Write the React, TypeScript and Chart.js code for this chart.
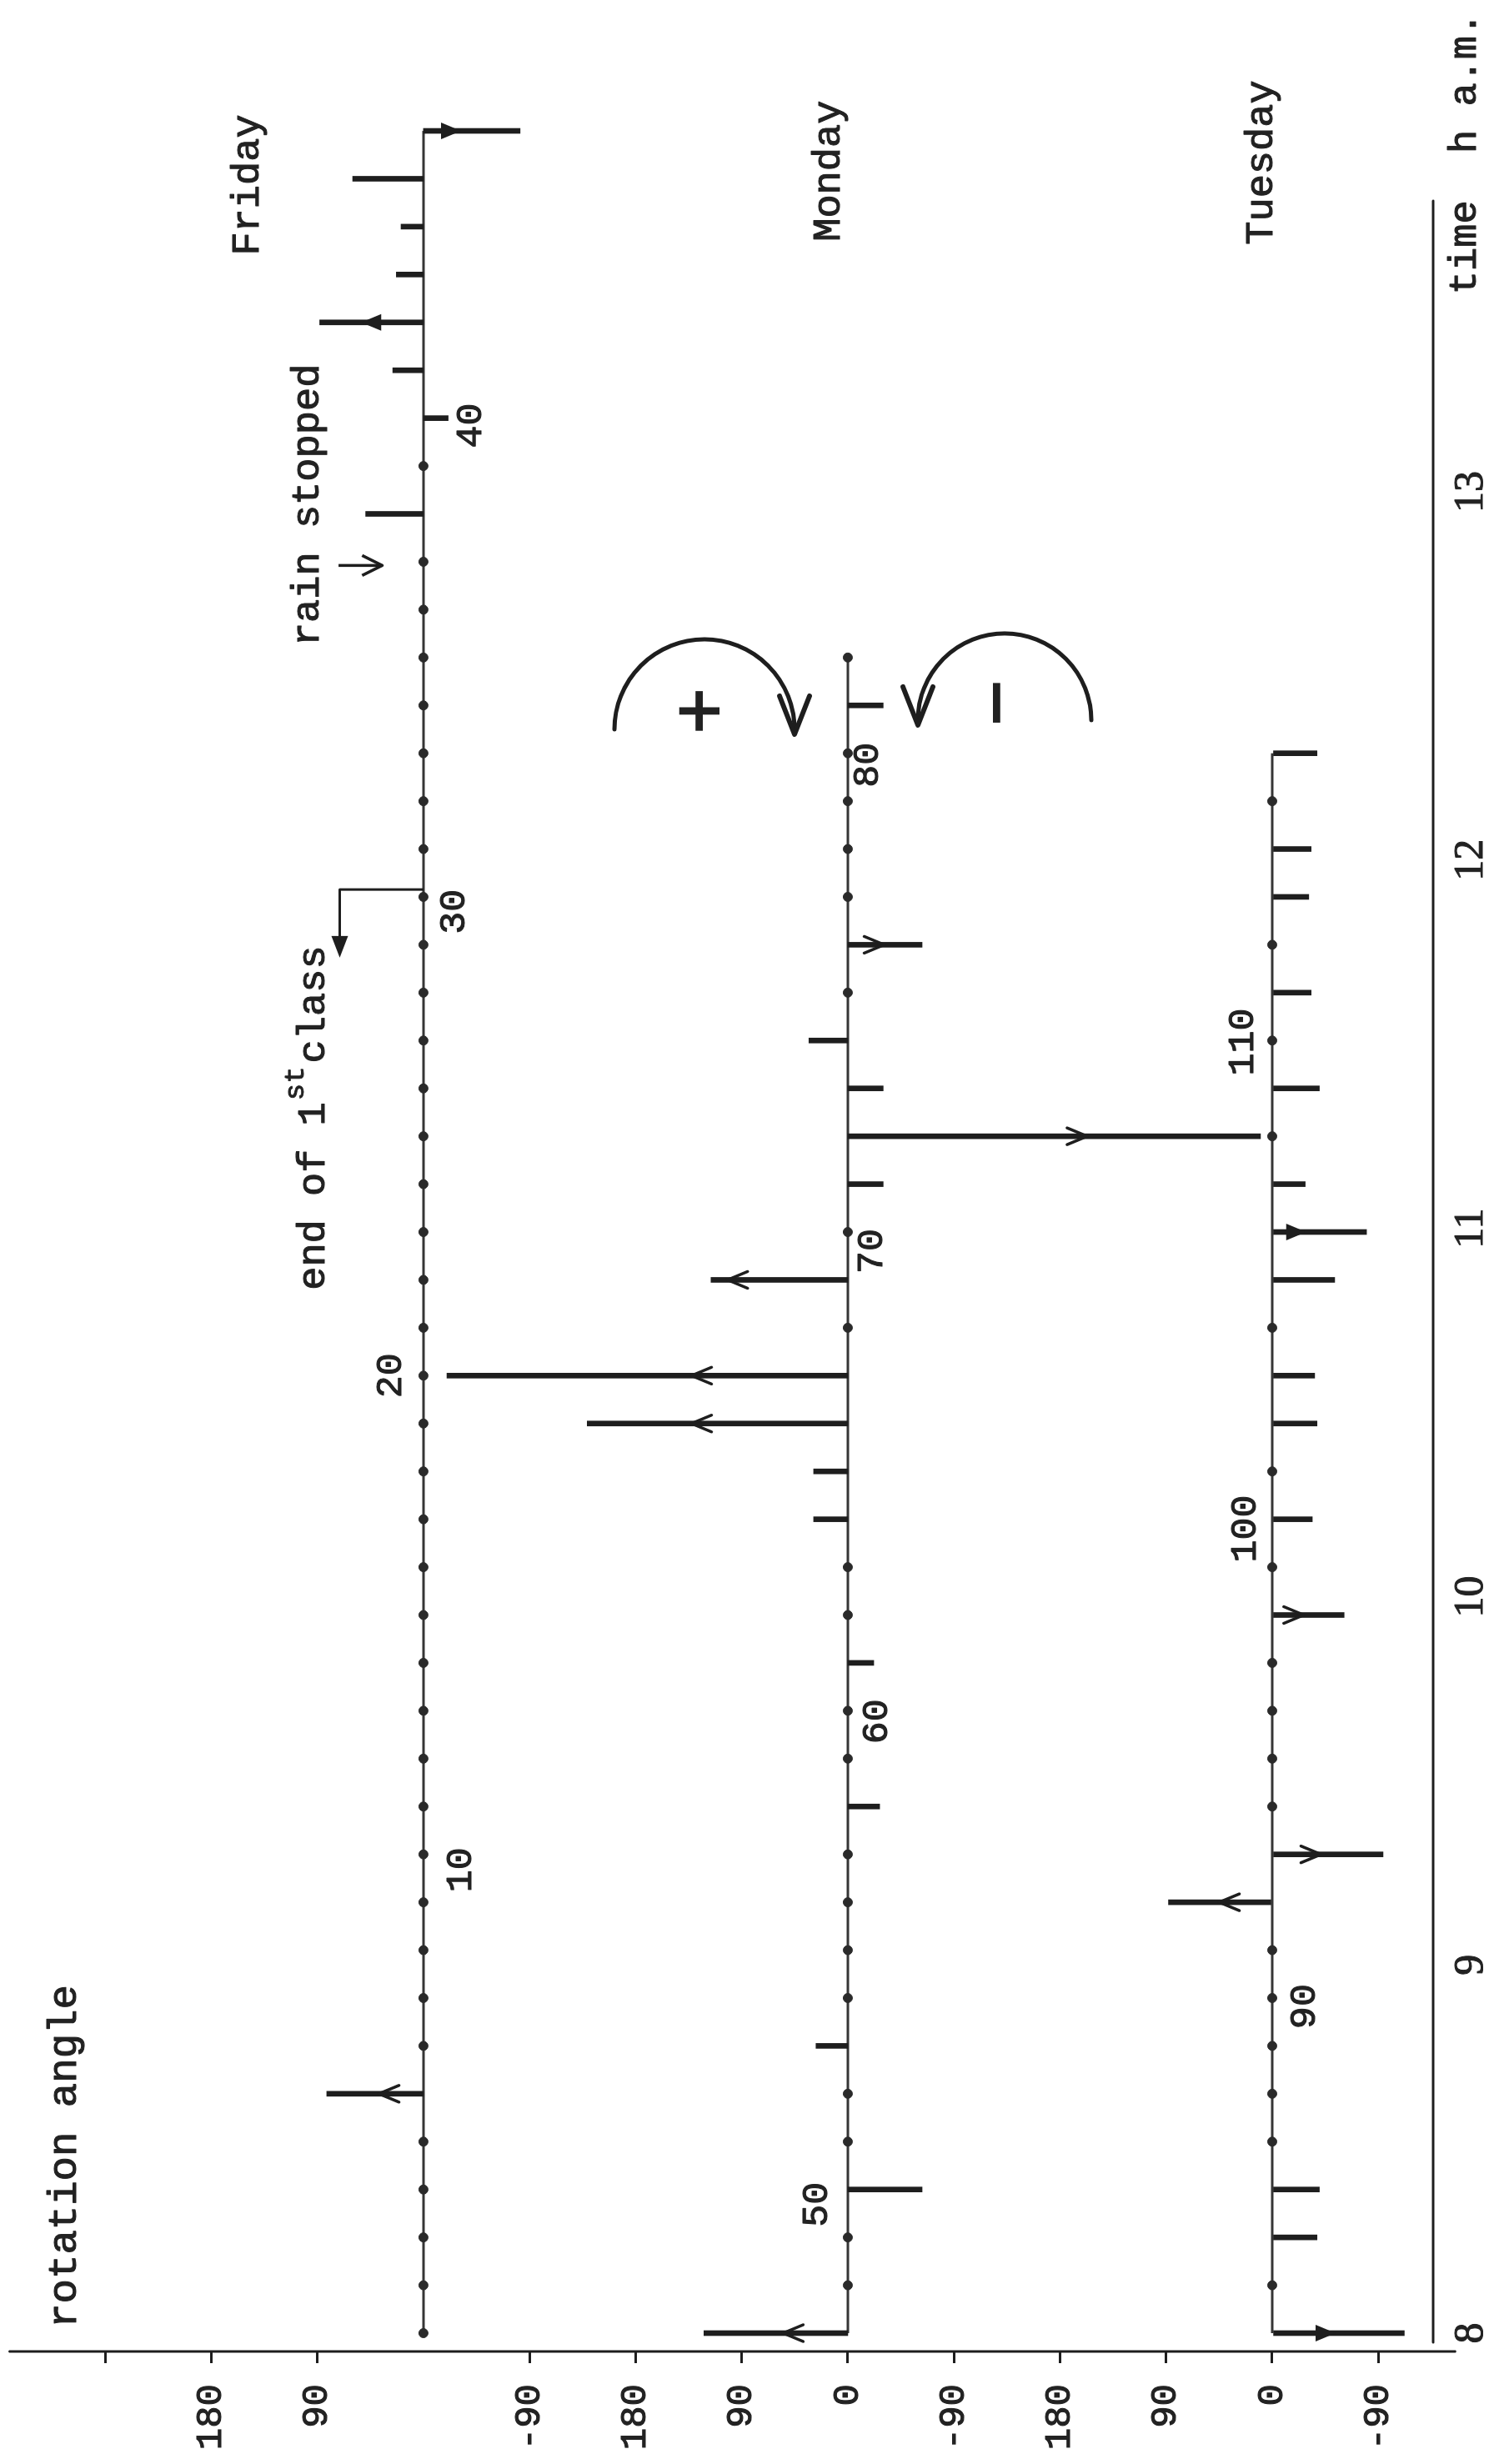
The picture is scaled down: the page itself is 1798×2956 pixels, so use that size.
import React, { useEffect, useRef } from "react";
import { Chart, registerables } from "chart.js";

Chart.register(...registerables);

// ---------------- data ----------------
// measurement times (hours a.m.), one reading every ~7.8 minutes
const FRIDAY_TIMES = [
  8.0, 8.13, 8.26, 8.39, 8.52, 8.65, 8.78, 8.91, 9.04, 9.17,
  9.3, 9.43, 9.56, 9.69, 9.82, 9.95, 10.08, 10.21, 10.34, 10.47,
  10.6, 10.73, 10.86, 10.99, 11.12, 11.25, 11.38, 11.51, 11.64, 11.77,
  11.9, 12.03, 12.16, 12.29, 12.42, 12.55, 12.68, 12.81, 12.94, 13.07,
  13.2, 13.33, 13.46, 13.59, 13.72, 13.85, 13.98,
];
// rotation angle (degrees) at each Friday reading
const FRIDAY_ANGLES = [
  0, 0, 0, 0, 0, 82, 0, 0, 0, 0,
  0, 0, 0, 0, 0, 0, 0, 0, 0, 0,
  0, 0, 0, 0, 0, 0, 0, 0, 0, 0,
  0, 0, 0, 0, 0, 0, 0, 0, 49, 0,
  -21, 26, 88, 23, 19, 60, -82,
];

const MONDAY_TIMES = [
  8.0, 8.13, 8.26, 8.39, 8.52, 8.65, 8.78, 8.91, 9.04, 9.17,
  9.3, 9.43, 9.56, 9.69, 9.82, 9.95, 10.08, 10.21, 10.34, 10.47,
  10.6, 10.73, 10.86, 10.99, 11.12, 11.25, 11.38, 11.51, 11.64, 11.77,
  11.9, 12.03, 12.16, 12.29, 12.42, 12.55,
];
const MONDAY_ANGLES = [
  122, 0, 0, -63, 0, 0, 27, 0, 0, 0,
  0, -27, 0, 0, -22, 0, 0, 29, 29, 221,
  340, 0, 116, 0, -30, -350, -30, 33, 0, -63,
  0, 0, 0, 0, -30, 0,
];

const TUESDAY_TIMES = [
  8.0, 8.13, 8.26, 8.39, 8.52, 8.65, 8.78, 8.91, 9.04, 9.17,
  9.3, 9.43, 9.56, 9.69, 9.82, 9.95, 10.08, 10.21, 10.34, 10.47,
  10.6, 10.73, 10.86, 10.99, 11.12, 11.25, 11.38, 11.51, 11.64, 11.77,
  11.9, 12.03, 12.16, 12.29,
];
const TUESDAY_ANGLES = [
  -112, 0, -38, -40, 0, 0, 0, 0, 0, 88,
  -94, 0, 0, 0, 0, -61, 0, -34, 0, -38,
  -36, 0, -53, -80, -28, 0, -40, 0, -33, 0,
  -31, -33, 0, -38,
];

// zero line of each day on the stacked angle axis
const FRIDAY_ZERO = 720;
const MONDAY_ZERO = 360;
const TUESDAY_ZERO = 0;

// axis ticks
const TIME_TICKS = [8, 9, 10, 11, 12, 13];
const TIME_TICK_LABELS = ["8", "9", "10", "11", "12", "13"];
const ANGLE_TICKS = [-90, 0, 90, 180, 270, 360, 450, 540, 630, 810, 900, 990];
const ANGLE_TICK_LABELS = ["-90", "0", "90", "180", "-90", "0", "90", "180", "-90", "90", "180", ""];

// arrowheads drawn on some bars: [reading index, tip position along bar, filled]
const FRIDAY_ARROWS: [number, number, boolean][] = [[5, 0.46, false], [42, 0.6, true], [46, 0.39, true]];
const MONDAY_ARROWS: [number, number, boolean][] = [
  [0, 0.45, false], [19, 0.6, false], [20, 0.39, false], [22, 0.88, false], [25, 0.58, false], [29, 0.49, false],
];
const TUESDAY_ARROWS: [number, number, boolean][] = [
  [0, 0.48, true], [9, 0.51, false], [10, 0.44, false], [15, 0.44, false], [23, 0.36, true],
];

// reading numbers written along the zero lines: [text, time, angle-axis position]
const READING_NUMBERS: [string, number, number][] = [
  ["10", 9.258, 688], ["20", 10.6, 747.5], ["30", 11.86, 693.8], ["40", 13.18, 679.6],
  ["50", 8.349, 386], ["60", 9.661, 335], ["70", 10.938, 339.5], ["80", 12.258, 343],
  ["90", 8.887, -28], ["100", 10.184, 22.6], ["110", 11.506, 24.8],
];

// ---------------- layout / style ----------------
const PAGE_W = 1798;
const PAGE_H = 2956;
const TIME_MIN = 7.9502;
const TIME_MAX = 14.3128;
const ANGLE_MIN = -136.5;
const ANGLE_MAX = 1072.1;
const INK = "#1e1e1e";
const TEXT_INK = "#222222";
const MONO = '"Liberation Mono", "DejaVu Sans Mono", monospace';
const SERIF = '"Liberation Serif", "DejaVu Serif", serif';

const DAYS = [
  { name: "Friday", times: FRIDAY_TIMES, angles: FRIDAY_ANGLES, zero: FRIDAY_ZERO, arrows: FRIDAY_ARROWS },
  { name: "Monday", times: MONDAY_TIMES, angles: MONDAY_ANGLES, zero: MONDAY_ZERO, arrows: MONDAY_ARROWS },
  { name: "Tuesday", times: TUESDAY_TIMES, angles: TUESDAY_ANGLES, zero: TUESDAY_ZERO, arrows: TUESDAY_ARROWS },
];

function buildDatasets() {
  const ds: any[] = [];
  DAYS.forEach((day) => {
    ds.push({
      type: "line",
      label: `${day.name} zero line`,
      data: day.times.map((t) => ({ x: t, y: day.zero })),
      borderColor: "#363636",
      borderWidth: 3,
      pointRadius: 0,
      fill: false,
      order: 3,
    });
    ds.push({
      type: "bar",
      label: `${day.name} rotation`,
      data: day.times
        .map((t, i) => ({ x: t, y: [day.zero, day.zero + day.angles[i]] }))
        .filter((_, i) => day.angles[i] !== 0),
      backgroundColor: INK,
      borderWidth: 0,
      barThickness: 6,
      grouped: false,
      order: 2,
    });
    ds.push({
      type: "line",
      label: `${day.name} no rotation`,
      data: day.times
        .map((t, i) => ({ x: t, y: day.zero + day.angles[i] }))
        .filter((_, i) => day.angles[i] === 0),
      showLine: false,
      pointRadius: 5.5,
      pointStyle: "circle",
      pointBackgroundColor: "#2a2a2a",
      pointBorderColor: "#2a2a2a",
      pointBorderWidth: 1,
      order: 1,
    });
  });
  return ds;
}

function arrowHead(ctx: CanvasRenderingContext2D, tx: number, ty: number, dx: number, dy: number,
  len: number, half: number, filled: boolean, lw: number) {
  const bx = tx - dx * len;
  const by = ty - dy * len;
  const nx = -dy;
  const ny = dx;
  ctx.beginPath();
  ctx.moveTo(bx + nx * half, by + ny * half);
  ctx.lineTo(tx, ty);
  ctx.lineTo(bx - nx * half, by - ny * half);
  if (filled) {
    ctx.closePath();
    ctx.fill();
  } else {
    ctx.lineWidth = lw;
    ctx.stroke();
  }
}

const figurePlugin = {
  id: "figureAnnotations",
  afterDatasetsDraw(chart: any) {
    const ctx: CanvasRenderingContext2D = chart.ctx;
    const xs = chart.scales.x;
    const ys = chart.scales.y;
    const px = (t: number) => xs.getPixelForValue(t);
    const py = (v: number) => ys.getPixelForValue(v);
    ctx.save();
    ctx.strokeStyle = INK;
    ctx.fillStyle = INK;
    ctx.lineCap = "round";
    ctx.lineJoin = "round";

    const seg = (x1: number, y1: number, x2: number, y2: number, w: number) => {
      ctx.lineWidth = w;
      ctx.beginPath();
      ctx.moveTo(x1, y1);
      ctx.lineTo(x2, y2);
      ctx.stroke();
    };

    // axis lines
    seg(px(TIME_MIN), py(1071), px(TIME_MIN), py(-155), 3);
    seg(px(7.975), py(ANGLE_MIN), px(13.79), py(ANGLE_MIN), 3);

    // arrowheads on bars
    DAYS.forEach((day) => {
      day.arrows.forEach(([i, f, filled]) => {
        const a = day.angles[i];
        const tip = day.zero + a * f;
        const dir = a > 0 ? -1 : 1;
        arrowHead(ctx, px(day.times[i]), py(tip), 0, dir, 24, 10, filled, 3.5);
      });
    });

    // end of 1st class bracket
    ctx.lineCap = "butt";
    ctx.lineWidth = 3;
    ctx.beginPath();
    ctx.moveTo(px(11.92), py(FRIDAY_ZERO));
    ctx.lineTo(px(11.92), py(791));
    ctx.lineTo(px(11.77), py(791));
    ctx.stroke();
    arrowHead(ctx, px(11.735), py(791), -1, 0, 26, 10, true, 3);

    // rain stopped arrow
    seg(px(12.8), py(792), px(12.8), py(755), 3.5);
    arrowHead(ctx, px(12.8), py(755), 0, 1, 24, 12, false, 3.5);

    // rotation sense arcs
    ctx.lineCap = "round";
    const plusC = { x: px(12.355), y: py(481.6) };
    ctx.lineWidth = 5;
    ctx.beginPath();
    ctx.arc(plusC.x, plusC.y, 108, -Math.PI / 2, Math.PI / 2);
    ctx.stroke();
    arrowHead(ctx, plusC.x - 6, plusC.y + 108, -1, 0, 46, 18, false, 6);
    const minusC = { x: px(12.38), y: py(227) };
    ctx.lineWidth = 5;
    ctx.beginPath();
    ctx.arc(minusC.x, minusC.y, 104, -Math.PI / 2, Math.PI / 2);
    ctx.stroke();
    arrowHead(ctx, minusC.x - 6, minusC.y - 104, -1, 0, 46, 18, false, 6);

    // texts (slightly stroked to imitate typewriter ink)
    ctx.fillStyle = TEXT_INK;
    ctx.strokeStyle = TEXT_INK;
    ctx.textBaseline = "middle";
    const put = (s: string, x: number, y: number, stroke = 1.1) => {
      ctx.fillText(s, x, y);
      if (stroke > 0) {
        ctx.lineWidth = stroke;
        ctx.strokeText(s, x, y);
      }
    };
    const text = (s: string, t: number, v: number, size: number, align: CanvasTextAlign, family = MONO, weight = "", stroke = 1.1) => {
      ctx.font = `${weight} ${size}px ${family}`.trim();
      ctx.textAlign = align;
      put(s, px(t), py(v), stroke);
    };
    text("+", 12.405, 483, 76, "center", '"DejaVu Sans", sans-serif', "bold", 0);
    text("\u2212", 12.427, 231, 76, "center", '"DejaVu Sans", sans-serif', "bold", 0);

    text("rotation angle", 8.014, 1024, 49, "left");
    text("Friday", 13.833, 869, 47, "center");
    text("Monday", 13.871, 376, 47, "center");
    text("Tuesday", 13.894, 9, 47, "center");
    text("time  h a.m.", 13.536, -164, 47, "left");
    text("rain stopped", 12.581, 818, 47, "left");

    // end of 1st class (with superscript)
    ctx.textAlign = "left";
    const x0 = px(10.832);
    const y0 = py(812.6);
    ctx.font = `47px ${MONO}`;
    put("end of 1", x0, y0);
    const w1 = ctx.measureText("end of 1").width;
    ctx.font = `34px ${MONO}`;
    put("st", x0 + w1 + 2, y0 - 22, 0.9);
    const w2 = ctx.measureText("st").width;
    ctx.font = `47px ${MONO}`;
    put("class", x0 + w1 + w2 + 6, y0);

    READING_NUMBERS.forEach(([s, t, v]) => text(s, t, v, 45, "center"));

    ctx.restore();
  },
};

export default function App() {
  const ref = useRef<HTMLCanvasElement>(null);

  useEffect(() => {
    if (!ref.current) return;
    const chart = new Chart(ref.current, {
      type: "bar",
      data: { datasets: buildDatasets() },
      options: {
        responsive: false,
        animation: false,
        devicePixelRatio: 1,
        layout: { padding: { left: 0, right: 10, top: 10, bottom: 0 } },
        plugins: {
          legend: { display: false },
          tooltip: { enabled: false },
          title: { display: false },
        },
        scales: {
          x: {
            type: "linear",
            min: TIME_MIN,
            max: TIME_MAX,
            offset: false,
            grid: { display: false, drawTicks: false },
            border: { display: false },
            afterBuildTicks: (s: any) => {
              s.ticks = TIME_TICKS.map((v) => ({ value: v }));
            },
            afterFit: (s: any) => {
              s.height = 79;
              s.paddingLeft = 0;
              s.paddingRight = 0;
              s.paddingTop = 0;
              s.paddingBottom = 0;
            },
            ticks: {
              autoSkip: false,
              maxRotation: 0,
              minRotation: 0,
              padding: 16,
              color: TEXT_INK,
              textStrokeColor: TEXT_INK,
              textStrokeWidth: 1,
              font: { family: SERIF, size: 50 },
              callback: (v: any) => {
                const i = TIME_TICKS.indexOf(Number(v));
                return i >= 0 ? TIME_TICK_LABELS[i] : "";
              },
            },
          },
          y: {
            type: "linear",
            min: ANGLE_MIN,
            max: ANGLE_MAX,
            grid: { drawOnChartArea: false, drawTicks: true, tickLength: 14, color: INK, lineWidth: 3 },
            border: { display: false },
            afterBuildTicks: (s: any) => {
              s.ticks = ANGLE_TICKS.map((v) => ({ value: v }));
            },
            afterFit: (s: any) => {
              s.width = 135;
              s.paddingLeft = 0;
              s.paddingRight = 0;
              s.paddingTop = 0;
              s.paddingBottom = 0;
            },
            ticks: {
              autoSkip: false,
              padding: 25,
              color: TEXT_INK,
              textStrokeColor: TEXT_INK,
              textStrokeWidth: 1.1,
              font: { family: MONO, size: 44 },
              callback: (v: any) => {
                const i = ANGLE_TICKS.indexOf(Number(v));
                return i >= 0 ? ANGLE_TICK_LABELS[i] : "";
              },
            },
          },
        },
      } as any,
      plugins: [figurePlugin],
    });
    return () => chart.destroy();
  }, []);

  return (
    <div
      style={{
        position: "absolute",
        left: 0,
        top: 0,
        width: PAGE_W,
        height: PAGE_H,
        overflow: "hidden",
        background: "#ffffff",
      }}
    >
      <canvas
        ref={ref}
        width={PAGE_H}
        height={PAGE_W}
        style={{
          position: "absolute",
          left: 0,
          top: 0,
          width: PAGE_H,
          height: PAGE_W,
          transformOrigin: "0 0",
          transform: `translate(0px, ${PAGE_H}px) rotate(-90deg)`,
        }}
      />
    </div>
  );
}
